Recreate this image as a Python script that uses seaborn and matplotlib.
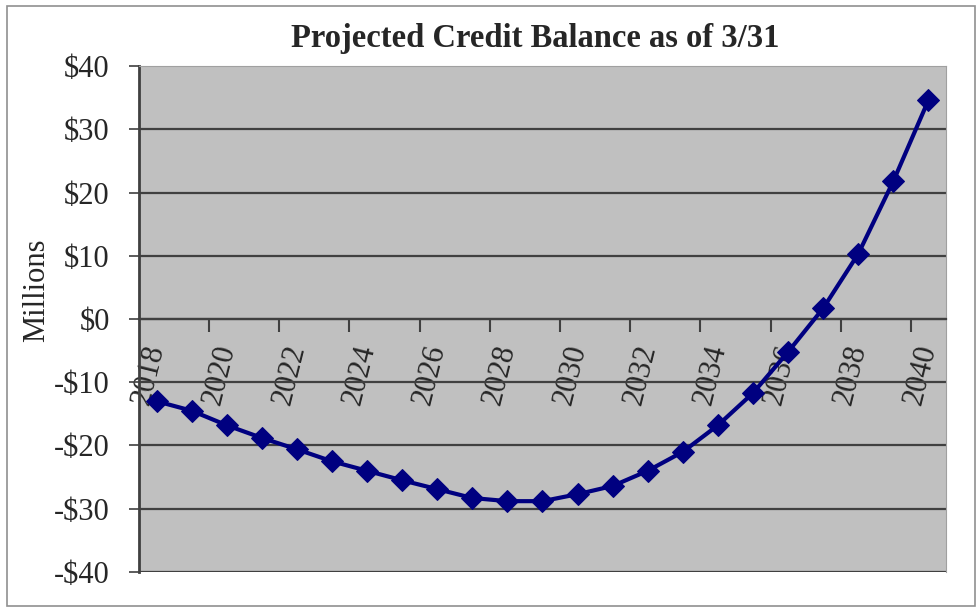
import numpy as np
import pandas as pd
import seaborn as sns
import matplotlib.pyplot as plt
from matplotlib.patches import Rectangle
from matplotlib.ticker import FuncFormatter

years = list(range(2018, 2041))
balance = [-13.0, -14.5, -16.8, -18.8, -20.6, -22.5, -24.0, -25.5, -26.9, -28.3,
           -28.8, -28.8, -27.7, -26.4, -24.0, -21.0, -16.8, -11.7, -5.2, 1.7,
           10.3, 21.8, 34.6]
label_years = years[::2]
y_ticks = list(range(-40, 50, 10))

df = pd.DataFrame({"year": years, "balance": balance})

sns.set_style("white")
plt.rcParams['font.family'] = ['Liberation Serif', 'DejaVu Serif']

fig = plt.figure(figsize=(9.8, 6.1), dpi=100)
ax = fig.add_axes([0.1418, 0.0623, 0.8235, 0.8295])
ax.set_facecolor('#c0c0c0')

sns.lineplot(data=df, x="year", y="balance", ax=ax, color='#000080',
             marker='D', markersize=11, markeredgecolor='#000080',
             linewidth=3, zorder=5)

ax.set_xlim(2017.5, 2040.5)
ax.set_ylim(-40, 40)

# x axis sits on the $0 line (do this first, it resets the ticks)
ax.spines['bottom'].set_position(('data', 0))
ax.spines['bottom'].set_color('#404040')
ax.spines['bottom'].set_linewidth(1.6)
ax.spines['left'].set_color('#404040')
ax.spines['left'].set_linewidth(2)
ax.spines['top'].set_color('#a0a0a0')
ax.spines['right'].set_color('#a0a0a0')

# horizontal gridlines
for v in y_ticks[:-1]:
    ax.axhline(v, color='#404040', linewidth=1.6, zorder=1)

ax.set_yticks(y_ticks)
ax.yaxis.set_major_formatter(FuncFormatter(lambda v, p: "$%d" % v if v >= 0 else "-$%d" % -v))
ax.tick_params(axis='y', labelsize=22, length=7, width=1.2, color='#404040', left=True, pad=14)

# category labels every other year, ticks between categories
ax.set_xticks(label_years)
ax.set_xticklabels([str(y) for y in label_years])
ax.set_xticks([y - 0.5 for y in label_years[1:]], minor=True)
ax.tick_params(axis='x', which='major', length=0, pad=19, labelsize=22)
ax.tick_params(axis='x', which='minor', length=9, width=1.5, color='#404040', bottom=True, direction='out')
plt.setp(ax.get_xticklabels(), rotation=76, ha='right', va='center', rotation_mode='anchor')

ax.set_xlabel("")
ax.set_ylabel("")
fig.text(0.037, 0.525, "Millions", rotation=90, ha='center', va='center', fontsize=22)
fig.text(0.546, 0.937, "Projected Credit Balance as of 3/31", ha='center', va='center',
         fontsize=23.5, fontweight='bold')

fig.patches.append(Rectangle((0.007, 0.006), 0.988, 0.984, transform=fig.transFigure,
                             fill=False, edgecolor='#909090', linewidth=1.2))

fig.savefig("out.png", dpi=100)
